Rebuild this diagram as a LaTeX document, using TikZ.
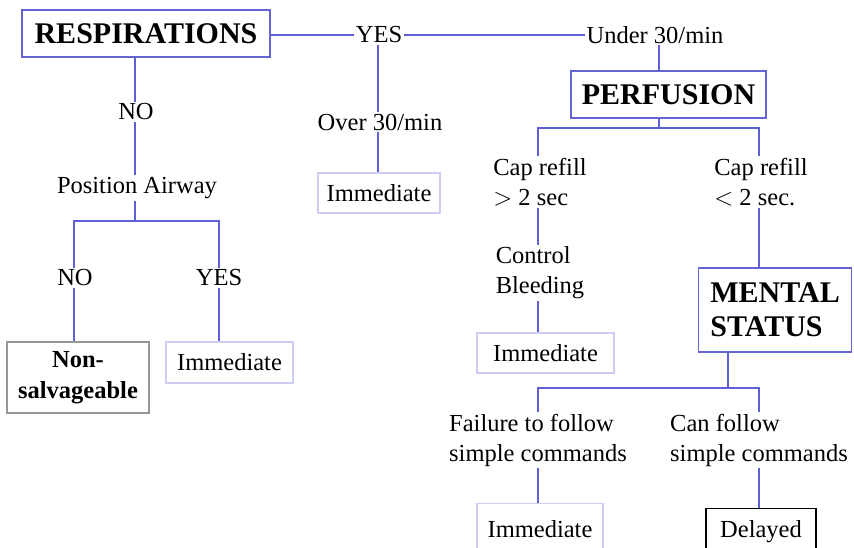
\documentclass[tikz,border=0pt]{standalone}
\usepackage{fontspec}
\setmainfont{Liberation Serif}
\usetikzlibrary{positioning}
\definecolor{linkblue}{RGB}{95,95,215}
\definecolor{boxblue}{RGB}{100,100,210}
\definecolor{lightbox}{RGB}{205,205,245}
\definecolor{greybox}{RGB}{150,150,150}

\begin{document}
\begin{tikzpicture}[x=1pt,y=-1pt,
		conn/.style={draw=linkblue,line width=1.1pt},
		lbl/.style={inner sep=2pt,font=\fontsize{24.5}{30}\selectfont,align=left},
		headbox/.style={draw=boxblue,line width=1.2pt,font=\fontsize{30}{34}\selectfont\bfseries,align=left,inner sep=0pt},
		resbox/.style={draw=lightbox,line width=1.2pt,font=\fontsize{24.5}{30}\selectfont,inner sep=0pt}]
	\useasboundingbox (0,0) rectangle (854,547);
	\clip (0,0) rectangle (854,547);
	% first question
	\node[headbox,minimum width=248pt,minimum height=47pt] (resp) at (146,33.5) {RESPIRATIONS};
	\node[lbl] (yes1) at (379,35) {YES};
	\node[lbl,inner sep=1pt] (under) at (655,35) {Under 30/min};
	\node[lbl] (over) at (380,122) {Over 30/min};
	\node[resbox,minimum width=122pt,minimum height=40pt] (imm1) at (379,193) {Immediate};
	\draw[conn] (resp.east |- yes1) -- (yes1) -- (under);
	\draw[conn] (yes1.south -| 378,0) -- (over.north -| 378,0);
	\draw[conn] (over.south -| 378,0) -- (imm1.north -| 378,0);
	% no breathing
	\node[lbl] (no1) at (136,112) {NO};
	\node[lbl] (posair) at (137,188) {Position Airway};
	\coordinate (split1) at (135,221);
	\node[lbl] (no2) at (75,278) {NO};
	\node[lbl] (yes2) at (219,278) {YES};
	\node[draw=greybox,line width=1.2pt,minimum width=142pt,minimum height=71pt,inner sep=0pt,align=center,
		font=\fontsize{24.5}{31}\selectfont\bfseries] (nonsalv) at (78,377.5) {Non-\\salvageable};
	\node[resbox,minimum width=127pt,minimum height=41pt] (imm2) at (229.5,362.5) {Immediate};
	\draw[conn] (resp.south -| split1) -- (no1.north -| split1);
	\draw[conn] (no1.south -| split1) -- (posair.north -| split1);
	\draw[conn] (posair.south -| split1) -- (split1);
	\draw[conn] (no2.north -| 74,0) |- (split1) -| (yes2.north);
	\draw[conn] (no2.south -| 74,0) -- (nonsalv.north -| 74,0);
	\draw[conn] (yes2.south) -- (yes2.south |- imm2.north);
	% perfusion
	\node[headbox,minimum width=195pt,minimum height=47pt] (perf) at (668.5,94.5) {PERFUSION};
	\coordinate (split2) at (659,128);
	\node[lbl] (cap1) at (540,182) {Cap refill\\$>$ 2 sec};
	\node[lbl] (cap2) at (761,182) {Cap refill\\$<$ 2 sec.};
	\node[lbl] (ctrl) at (540,273) {Control\\Bleeding};
	\node[resbox,minimum width=137pt,minimum height=40pt] (imm3) at (545.5,353) {Immediate};
	\draw[conn] (under.south -| split2) -- (perf.north -| split2);
	\draw[conn] (perf.south -| split2) -- (split2);
	\draw[conn] (cap1.north -| 538,0) |- (split2) -| (cap2.north -| 759,0);
	\draw[conn] (cap1.south -| 538,0) -- (ctrl.north -| 538,0);
	\draw[conn] (ctrl.south -| 538,0) -- (imm3.north -| 538,0);
	% mental status
	\node[headbox,minimum width=153pt,minimum height=84pt,inner xsep=9pt,anchor=west] (mental) at (698,310) {MENTAL\\STATUS};
	\coordinate (split3) at (728,388);
	\node[lbl] (fail) at (538,440) {Failure to follow\\simple commands};
	\node[lbl] (canf) at (759,440) {Can follow\\simple commands};
	\node[resbox,minimum width=126pt,minimum height=52pt,anchor=north] (imm4) at (540,503) {};
	\node[lbl,anchor=base] at (540,537) {Immediate};
	\node[draw=black,line width=1.2pt,minimum width=110pt,minimum height=52pt,anchor=north] (delay) at (761,508) {};
	\node[lbl,anchor=base] at (761,537) {Delayed};
	\draw[conn] (cap2.south -| 759,0) -- (mental.north -| 759,0);
	\draw[conn] (mental.south -| split3) -- (split3);
	\draw[conn] (fail.north -| 538,0) |- (split3) -| (canf.north -| 759,0);
	\draw[conn] (fail.south -| 538,0) -- (imm4.north -| 538,0);
	\draw[conn] (canf.south -| 759,0) -- (delay.north -| 759,0);
\end{tikzpicture}
\end{document}
